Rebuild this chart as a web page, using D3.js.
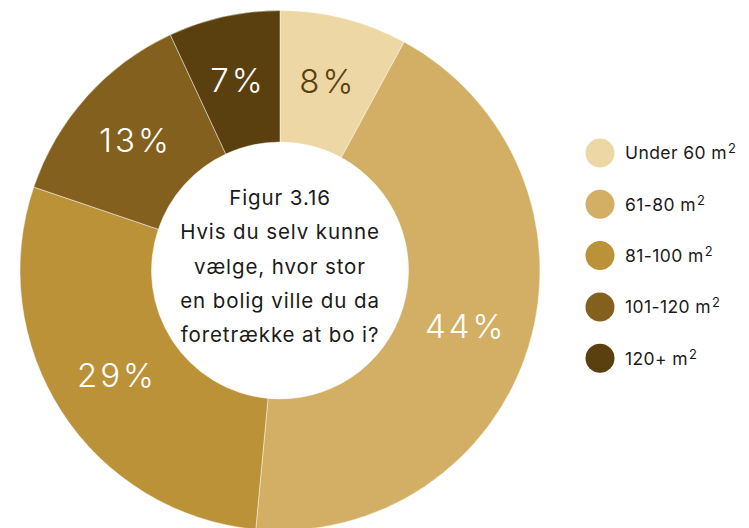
<!DOCTYPE html>
<html>
<head>
<meta charset="utf-8">
<script src="https://cdn.jsdelivr.net/npm/d3@7"></script>
<style>
  html, body { margin: 0; padding: 0; background: #fff; }
  svg { display: block; font-family: Inter, Lato, sans-serif; }
</style>
</head>
<body>
<svg id="chart" width="749" height="528"></svg>
<script>
// Boligstørrelse: andel af svar (procent)
const categories = ["Under 60", "61-80", "81-100", "101-120", "120+"];
const values = [8, 44, 29, 13, 7];
const colors = ["#EDD7A4", "#D2AF64", "#BC9238", "#84601E", "#5A400F"];
const labelColors = ["#5A400F", "#fff", "#fff", "#fff", "#fff"];
const titleLines = ["Figur 3.16", "Hvis du selv kunne", "vælge, hvor stor", "en bolig ville du da", "foretrække at bo i?"];

const svg = d3.select("#chart");
const cx = 280, cy = 270.5, outerR = 260, innerR = 128.5;

const pie = d3.pie().sort(null).value(d => d.value);
const arcs = pie(categories.map((c, i) => ({ cat: c, value: values[i], i })));
const arc = d3.arc().innerRadius(innerR).outerRadius(outerR);

const g = svg.append("g").attr("transform", `translate(${cx},${cy})`);

g.selectAll("path.slice")
  .data(arcs)
  .join("path")
  .attr("class", "slice")
  .attr("d", arc)
  .attr("fill", d => colors[d.data.i])
  .attr("stroke", "rgba(255,255,255,0.55)")
  .attr("stroke-width", 0.8);

g.selectAll("text.pct")
  .data(arcs)
  .join("text")
  .attr("class", "pct")
  .attr("transform", d => `translate(${arc.centroid(d)})`)
  .attr("text-anchor", "middle")
  .attr("dy", "0.33em")
  .attr("fill", d => labelColors[d.data.i])
  .style("font-size", "33px")
  .style("font-weight", 300)
  .style("letter-spacing", "3px")
  .text(d => d.data.value + "%");

// Spørgsmålet i midten af ringen
const title = g.append("text")
  .attr("text-anchor", "middle")
  .attr("fill", "#1a1a1a")
  .style("font-size", "20.5px")
  .style("font-weight", 400)
  .style("letter-spacing", "0.9px");
titleLines.forEach((t, k) => {
  title.append("tspan")
    .attr("x", 0)
    .attr("y", -65.5 + k * 34.3)
    .text(t);
});

// Forklaring
const legend = svg.append("g").attr("transform", "translate(600,153)");
const item = legend.selectAll("g.item")
  .data(categories)
  .join("g")
  .attr("class", "item")
  .attr("transform", (d, i) => `translate(0,${i * 51.3})`);

item.append("circle")
  .attr("r", 14.5)
  .attr("fill", (d, i) => colors[i]);

const lt = item.append("text")
  .attr("x", 25)
  .attr("dy", "0.36em")
  .attr("fill", "#1a1a1a")
  .style("font-size", "17.5px")
  .style("letter-spacing", "0.4px");
lt.append("tspan").text(d => d + " m");
lt.append("tspan")
  .attr("dy", "-0.45em")
  .attr("dx", "1px")
  .style("font-size", "13px")
  .text("2");
</script>
</body>
</html>
